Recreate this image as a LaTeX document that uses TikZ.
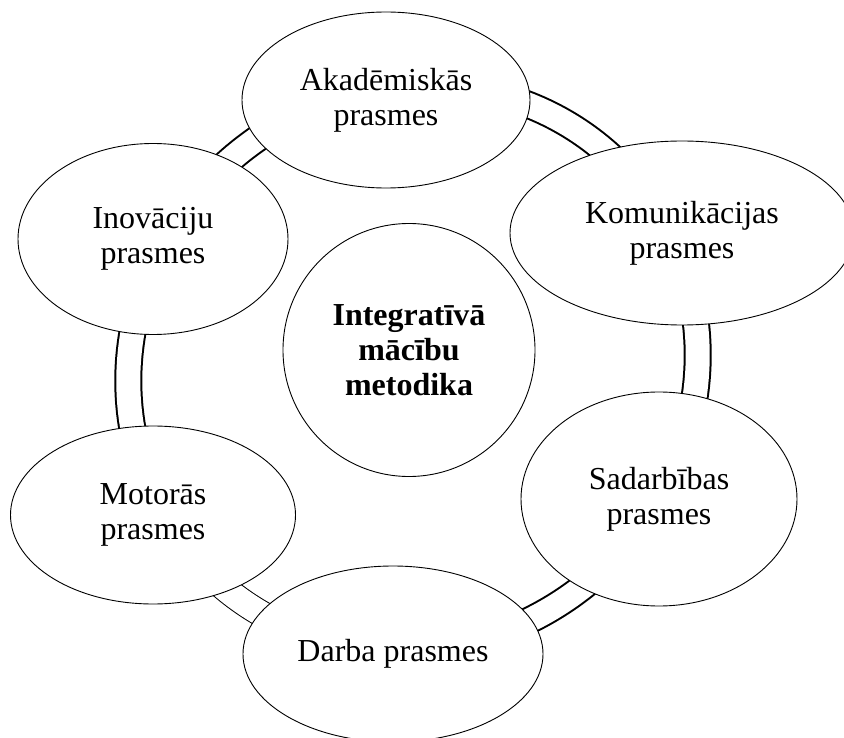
\documentclass[tikz,border=0pt]{standalone}
\usepackage{fontspec}
\setmainfont{Liberation Serif}
\usetikzlibrary{shapes.geometric,calc}
\begin{document}
\begin{tikzpicture}[x=1pt,y=-1pt,
  bub/.style={ellipse,draw=black,line width=0.9pt,fill=white,inner sep=0pt,
    align=center,font=\fontsize{32}{35}\selectfont},
  ringthick/.style={draw=black,line width=2pt,double=white,double distance=24pt},
  ringthin/.style={draw=black,line width=1pt,double=white,double distance=25pt}]
\useasboundingbox (0,0) rectangle (844,738);
\clip (0,0) rectangle (844,738);
\coordinate (rc) at (413,368);
\begin{scope}
  \clip (rc) -- ($(rc)+(150:600)$) -- ($(rc)+(210:600)$) -- ($(rc)+(270:600)$)
    -- ($(rc)+(330:600)$) -- ($(rc)+(390:600)$) -- ($(rc)+(450:600)$)
    -- ($(rc)+(465:600)$) -- cycle;
  \draw[ringthick,rotate around={40:(rc)}] (rc) ellipse [x radius=290,y radius=277];
\end{scope}
\begin{scope}
  \clip (rc) -- ($(rc)+(105:600)$) -- ($(rc)+(127:700)$) -- ($(rc)+(150:600)$) -- cycle;
  \draw[ringthin,rotate around={40:(rc)}] (rc) ellipse [x radius=290,y radius=277];
\end{scope}
\node[bub,minimum width=252pt,minimum height=253pt,font=\fontsize{32}{35}\selectfont\bfseries] (mid) at (409,350) {Integratīvā\\mācību\\metodika};
\node[bub,minimum width=288pt,minimum height=176pt] (aka) at (386,100) {Akadēmiskās\\prasmes};
\node[bub,minimum width=344pt,minimum height=184pt] (kom) at (682,233) {Komunikācijas\\prasmes};
\node[bub,minimum width=270pt,minimum height=191pt] (ino) at (153,239) {Inovāciju\\prasmes};
\node[bub,minimum width=285pt,minimum height=178pt] (mot) at (153,515) {Motorās\\prasmes};
\node[bub,minimum width=276pt,minimum height=214pt] (sad) at (659,499) {Sadarbības\\prasmes};
\node[bub,minimum width=300pt,minimum height=176pt] (dar) at (393,654) {Darba prasmes};
\end{tikzpicture}
\end{document}
